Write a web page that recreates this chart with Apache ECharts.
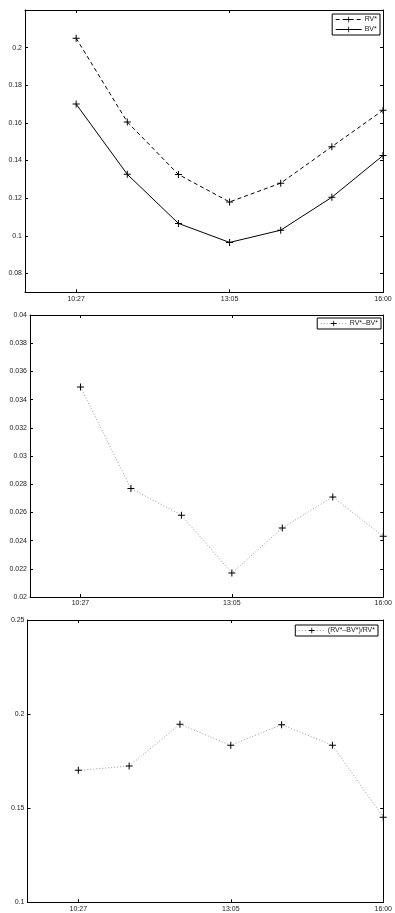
<!DOCTYPE html>
<html>
<head>
<meta charset="utf-8">
<script src="https://cdn.jsdelivr.net/npm/echarts@6/dist/echarts.min.js"></script>
<style>
html,body{margin:0;padding:0;background:#fff;}
#chart{width:395px;height:913px;}
</style>
</head>
<body>
<div id="chart"></div>
<script>
// ---- data ----
var xIndex = [0, 1, 2, 3, 4, 5, 6];
var tickIndex = [0, 3, 6];
var tickLabels = ["10:27", "13:05", "16:00"];

var rvStar = [0.205, 0.1605, 0.1326, 0.118, 0.128, 0.1474, 0.1667];
var bvStar = [0.170, 0.1327, 0.1066, 0.0965, 0.103, 0.1205, 0.1427];
var diffVals = [0.0349, 0.0277, 0.0258, 0.0217, 0.0249, 0.0271, 0.0243];
var ratioVals = [0.1701, 0.1724, 0.1946, 0.1834, 0.1944, 0.1834, 0.1452];

var yTicks1 = [0.08, 0.1, 0.12, 0.14, 0.16, 0.18, 0.2];
var yTicks2 = [0.02, 0.022, 0.024, 0.026, 0.028, 0.03, 0.032, 0.034, 0.036, 0.038, 0.04];
var yTicks3 = [0.1, 0.15, 0.2, 0.25];

var nameRV = "RV*", nameBV = "BV*", nameDiff = "RV*\u2013BV*", nameRatio = "(RV*\u2013BV*)/RV*";

// ---- chart ----
var chart = echarts.init(document.getElementById('chart'), null, {renderer: 'canvas'});
var FONT = 'Liberation Sans, Arial, sans-serif';
var plus = 'path://M3,0H4V3H7V4H4V7H3V4H0V3H3Z';
var lineCol = '#000';

function pairs(vals) { return xIndex.map(function (x, i) { return [x, vals[i]]; }); }

var grids = [
  {left: 25, top: 10, width: 358, height: 282.3},
  {left: 30, top: 315, width: 357.5, height: 282},
  {left: 27.5, top: 620, width: 358.5, height: 282.3}
];
var yRanges = [[0.07, 0.22, yTicks1], [0.02, 0.04, yTicks2], [0.1, 0.25, yTicks3]];

var xAxes = [], yAxes = [];
grids.forEach(function (g, gi) {
  ['bottom', 'top'].forEach(function (pos) {
    xAxes.push({
      type: 'value', gridIndex: gi, position: pos, min: -1, max: 6,
      splitLine: {show: false},
      axisLine: {show: true, onZero: false, lineStyle: {color: lineCol, width: 1}},
      axisTick: {show: true, inside: true, length: 3, customValues: tickIndex, lineStyle: {color: lineCol}},
      axisLabel: {
        show: pos === 'bottom', customValues: tickIndex, margin: 3,
        fontSize: 7, fontFamily: FONT, color: '#222',
        formatter: function (v) { var k = tickIndex.indexOf(Math.round(v)); return k >= 0 ? tickLabels[k] : ''; }
      }
    });
  });
  var r = yRanges[gi];
  ['left', 'right'].forEach(function (pos) {
    yAxes.push({
      type: 'value', gridIndex: gi, position: pos, min: r[0], max: r[1],
      splitLine: {show: false},
      axisLine: {show: true, onZero: false, lineStyle: {color: lineCol, width: 1}},
      axisTick: {show: true, inside: true, length: 3, customValues: r[2], lineStyle: {color: lineCol}},
      axisLabel: {
        show: pos === 'left', customValues: r[2], margin: 3,
        fontSize: 7, fontFamily: FONT, color: '#222',
        formatter: function (v) { return String(parseFloat(v.toFixed(4))); }
      }
    });
  });
});

function series(name, vals, gi, lineStyle) {
  return {
    name: name, type: 'line', xAxisIndex: gi * 2, yAxisIndex: gi * 2,
    data: pairs(vals), symbol: plus, symbolSize: 7, showSymbol: true,
    itemStyle: {color: '#000'}, lineStyle: lineStyle, silent: true
  };
}

var legendBase = {
  orient: 'vertical', backgroundColor: '#fff', borderColor: '#000', borderWidth: 1,
  borderRadius: 0, padding: [2, 3, 2, 3], itemGap: 3, itemWidth: 26, itemHeight: 7,
  textStyle: {fontSize: 7, fontFamily: FONT, color: '#222', padding: [0, 0, 0, -2]},
  lineStyle: {width: 1},
  selectedMode: false
};

var option = {
  animation: false,
  backgroundColor: '#fff',
  grid: grids,
  xAxis: xAxes,
  yAxis: yAxes,
  legend: [
    Object.assign({}, legendBase, {data: [nameRV, nameBV], right: 15, top: 14}),
    Object.assign({}, legendBase, {data: [nameDiff], right: 14, top: 318}),
    Object.assign({}, legendBase, {data: [nameRatio], right: 17, top: 625})
  ],
  series: [
    series(nameRV, rvStar, 0, {color: '#000', width: 1, type: [4, 3]}),
    series(nameBV, bvStar, 0, {color: '#000', width: 1, type: 'solid'}),
    series(nameDiff, diffVals, 1, {color: '#999', width: 1, type: [1, 2]}),
    series(nameRatio, ratioVals, 2, {color: '#999', width: 1, type: [1, 2]})
  ]
};
chart.setOption(option);
</script>
</body>
</html>
